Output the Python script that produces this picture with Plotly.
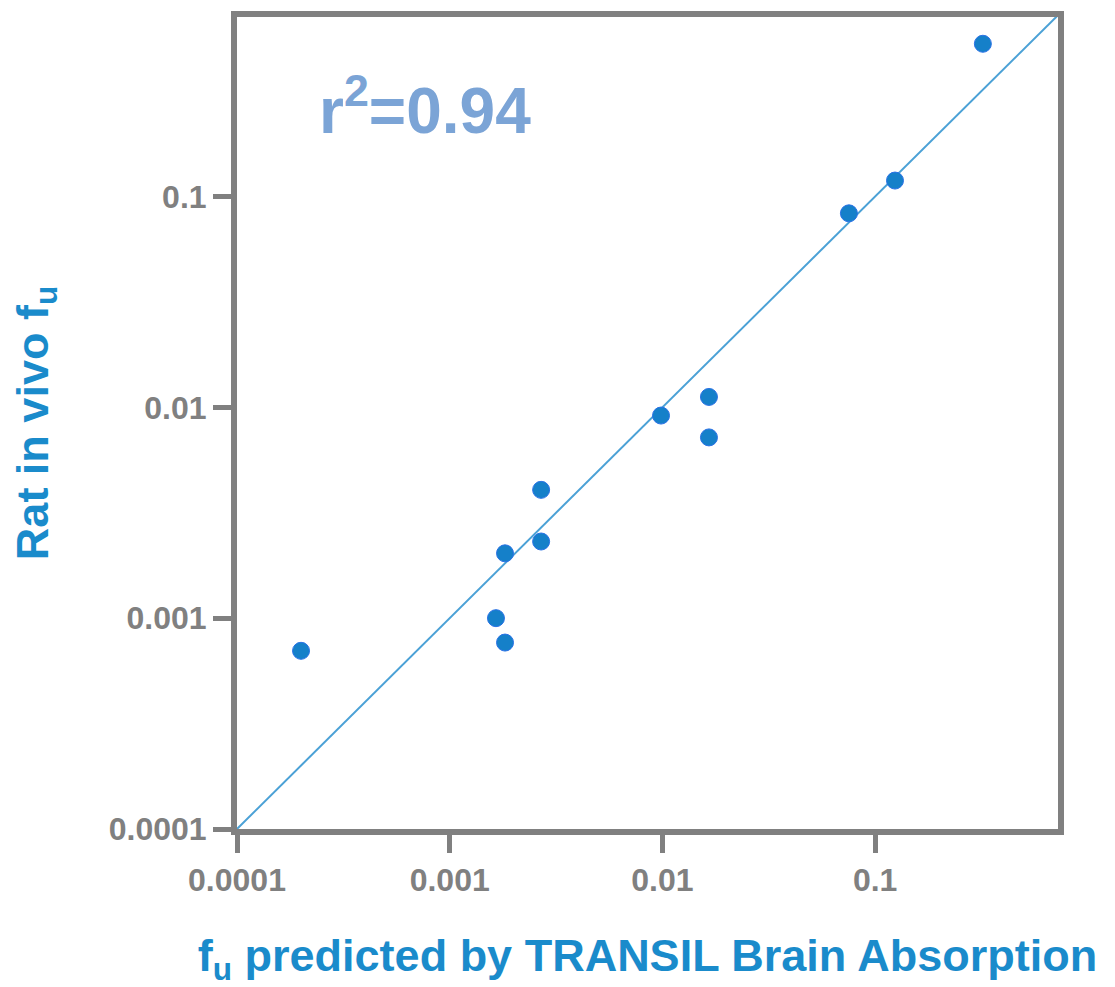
import plotly.graph_objects as go
import math

# Data
pred_fu = [0.0002, 0.00165, 0.00182, 0.00182, 0.00269, 0.00269, 0.00985, 0.01655, 0.01655, 0.0753, 0.124, 0.321]
rat_fu = [0.0007, 0.0010, 0.000766, 0.00203, 0.00231, 0.00406, 0.00914, 0.0112, 0.0072, 0.0832, 0.119, 0.53]
tick_vals = [0.0001, 0.001, 0.01, 0.1]
tick_text = ["0.0001", "0.001", "0.01", "0.1"]
unity = [0.0001, 0.724]

GRAY = "#808080"
TITLE_BLUE = "#1a8bcb"
FONT = "Liberation Sans"

fig = go.Figure()
fig.add_trace(go.Scatter(x=unity, y=unity, mode="lines",
                         line=dict(color="#4ba1d6", width=2), hoverinfo="skip"))
fig.add_trace(go.Scatter(x=pred_fu, y=rat_fu, mode="markers",
                         marker=dict(size=17, color="#1580c9", line=dict(color="#2a72e6", width=1))))

axis_common = dict(
    type="log", showgrid=False, zeroline=False,
    showline=True, linecolor=GRAY, linewidth=6, mirror=True,
    ticks="outside", ticklen=18, tickwidth=5, tickcolor=GRAY,
    tickvals=tick_vals, ticktext=tick_text,
    tickfont=dict(family=FONT, size=32, color=GRAY, weight="bold"),
)

fig.update_xaxes(range=[-4, math.log10(0.724)],
                 title=dict(text="f<sub>u</sub> predicted by TRANSIL Brain Absorption",
                            font=dict(family=FONT, size=45, color=TITLE_BLUE, weight="bold"),
                            standoff=46),
                 **axis_common)
fig.update_yaxes(range=[-4, math.log10(0.71)],
                 title=dict(text="Rat in vivo f<sub>u</sub>",
                            font=dict(family=FONT, size=45, color=TITLE_BLUE, weight="bold"),
                            standoff=48),
                 **axis_common)

fig.add_annotation(x=0.097, y=0.891, xref="paper", yref="paper", xanchor="left", yanchor="middle",
                   text="r<sup>2</sup>=0.94", showarrow=False,
                   font=dict(family=FONT, size=64, color="#7ba4d6", weight="bold"))

fig.update_layout(
    width=1115, height=987,
    margin=dict(l=237, r=57, t=11, b=157),
    paper_bgcolor="white", plot_bgcolor="white",
    showlegend=False,
)

fig.write_html("out.html")
